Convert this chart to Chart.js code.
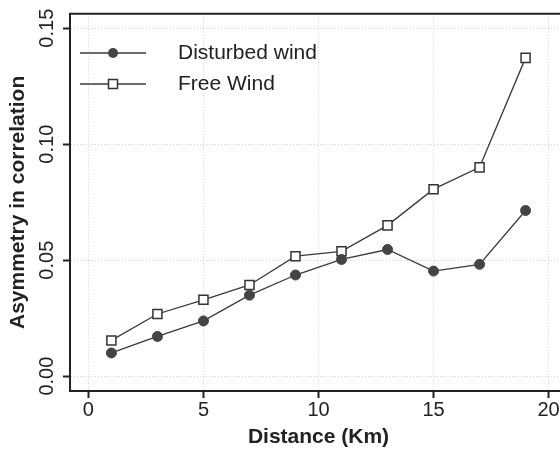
<!DOCTYPE html>
<html>
<head>
<meta charset="utf-8">
<script src="https://cdn.jsdelivr.net/npm/chart.js@4"></script>
<style>
  html, body { margin: 0; padding: 0; background: #fff; overflow: hidden; }
  #wrap { width: 560px; height: 454px; overflow: hidden; }
</style>
</head>
<body>
<div id="wrap"><canvas id="grafico" width="580" height="454"></canvas></div>
<script>
// valores
const distanciaKm = [1, 3, 5, 7, 9, 11, 13, 15, 17, 19];
const ventoPerturbado = [0.0100, 0.0171, 0.0238, 0.0349, 0.0436, 0.0503, 0.0546, 0.0453, 0.0482, 0.0714];
const ventoLivre = [0.0154, 0.0268, 0.0329, 0.0393, 0.0517, 0.0538, 0.0650, 0.0806, 0.0900, 0.1372];
const ticksX = [0, 5, 10, 15, 20];
const ticksY = [0, 0.05, 0.10, 0.15];

const corEixo = '#222';
const corLinha = '#3a3a3a';
const fonte = '"Liberation Sans", Arial, Helvetica, sans-serif';

// moldura superior + rotulos do eixo y rotacionados + legenda
const extras = {
    id: 'extras',
    afterDraw(chart) {
        const ctx = chart.ctx;
        const area = chart.chartArea;
        const y = chart.scales.y;

        ctx.save();
        ctx.strokeStyle = corEixo;
        ctx.lineWidth = 2;
        ctx.beginPath();
        ctx.moveTo(area.left - 1, area.top);
        ctx.lineTo(area.right + 1, area.top);
        ctx.moveTo(area.right, area.top);
        ctx.lineTo(area.right, area.bottom);
        ctx.stroke();

        // rotulos y
        ctx.fillStyle = '#222';
        ctx.font = '20px ' + fonte;
        ctx.textAlign = 'center';
        ctx.textBaseline = 'alphabetic';
        ticksY.forEach(v => {
            ctx.save();
            ctx.translate(53, y.getPixelForValue(v));
            ctx.rotate(-Math.PI / 2);
            ctx.fillText(v.toFixed(2), 0, 0);
            ctx.restore();
        });

        // legenda
        const itens = [
            { texto: 'Disturbed wind', tipo: 'circle', yy: 53 },
            { texto: 'Free Wind', tipo: 'rect', yy: 84 }
        ];
        itens.forEach(it => {
            ctx.strokeStyle = corLinha;
            ctx.lineWidth = 1.3;
            ctx.beginPath();
            ctx.moveTo(80, it.yy);
            ctx.lineTo(146, it.yy);
            ctx.stroke();
            if (it.tipo === 'circle') {
                ctx.fillStyle = '#444';
                ctx.beginPath();
                ctx.arc(113, it.yy, 5, 0, Math.PI * 2);
                ctx.fill();
            } else {
                ctx.fillStyle = '#fff';
                ctx.strokeStyle = '#333';
                ctx.lineWidth = 1.5;
                ctx.fillRect(108.5, it.yy - 4.5, 9, 9);
                ctx.strokeRect(108.5, it.yy - 4.5, 9, 9);
            }
            ctx.fillStyle = '#222';
            ctx.font = '21px ' + fonte;
            ctx.textAlign = 'left';
            ctx.textBaseline = 'middle';
            ctx.fillText(it.texto, 178, it.yy);
        });
        ctx.restore();
    }
};

const ctx = document.getElementById('grafico').getContext('2d');
new Chart(ctx, {
    type: 'line',
    data: {
        labels: distanciaKm,
        datasets: [{
            label: 'Disturbed wind',
            data: distanciaKm.map((d, i) => ({ x: d, y: ventoPerturbado[i] })),
            borderColor: corLinha,
            borderWidth: 1.3,
            pointStyle: 'circle',
            pointRadius: 5,
            pointBackgroundColor: '#444',
            pointBorderColor: '#444',
            pointBorderWidth: 1,
            tension: 0,
            fill: false
        }, {
            label: 'Free Wind',
            data: distanciaKm.map((d, i) => ({ x: d, y: ventoLivre[i] })),
            borderColor: corLinha,
            borderWidth: 1.3,
            pointStyle: 'rect',
            pointRadius: 6.4,
            pointBackgroundColor: '#fff',
            pointBorderColor: '#333',
            pointBorderWidth: 1.5,
            tension: 0,
            fill: false
        }]
    },
    options: {
        responsive: false,
        animation: false,
        devicePixelRatio: 1,
        layout: { padding: { left: 0, top: 11, right: 13, bottom: 0 } },
        plugins: {
            legend: { display: false },
            tooltip: { enabled: false }
        },
        scales: {
            x: {
                type: 'linear',
                min: -0.8,
                max: 20.8,
                afterBuildTicks: s => { s.ticks = ticksX.map(v => ({ value: v })); },
                afterFit: s => { s.height = 63; },
                grid: {
                    color: '#d2d2d2',
                    lineWidth: 1,
                    tickColor: corEixo,
                    tickLength: 7,
                    tickWidth: 2
                },
                border: { display: true, color: corEixo, width: 2, dash: [1, 2] },
                ticks: {
                    color: '#222',
                    font: { family: fonte, size: 20 },
                    padding: 0,
                    maxRotation: 0,
                    callback: v => String(v)
                },
                title: {
                    display: true,
                    text: 'Distance (Km)',
                    color: '#222',
                    font: { family: fonte, size: 21, weight: 'bold' },
                    padding: { top: 0, bottom: 4 }
                }
            },
            y: {
                type: 'linear',
                min: -0.0064,
                max: 0.1562,
                afterBuildTicks: s => { s.ticks = ticksY.map(v => ({ value: v })); },
                afterFit: s => { s.width = 70; },
                grid: {
                    color: '#d2d2d2',
                    lineWidth: 1,
                    tickColor: corEixo,
                    tickLength: 7,
                    tickWidth: 2
                },
                border: { display: true, color: corEixo, width: 2, dash: [1, 2] },
                ticks: {
                    color: 'rgba(0,0,0,0)',
                    font: { family: fonte, size: 18 },
                    callback: v => v.toFixed(2)
                },
                title: {
                    display: true,
                    text: 'Asymmetry in correlation',
                    color: '#222',
                    font: { family: fonte, size: 21, weight: 'bold' },
                    padding: { top: 6, bottom: 0 }
                }
            }
        }
    },
    plugins: [extras]
});
</script>
</body>
</html>
